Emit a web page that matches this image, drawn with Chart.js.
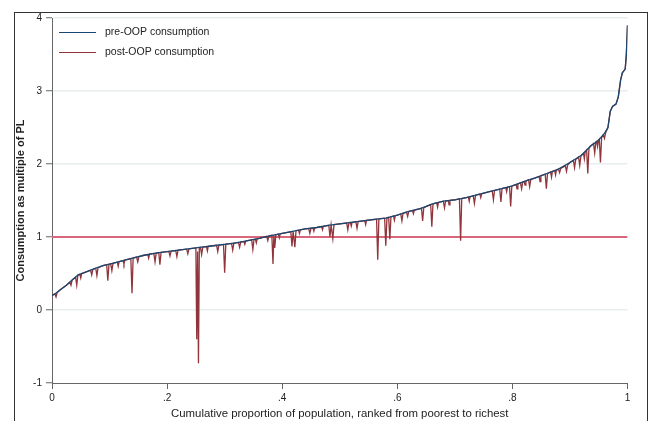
<!DOCTYPE html>
<html>
<head>
<meta charset="utf-8">
<script src="https://cdn.jsdelivr.net/npm/chart.js@4/dist/chart.umd.min.js"></script>
<style>
  html, body { margin: 0; padding: 0; background: #ffffff; }
  #wrap { width: 654px; height: 421px; position: relative; }
</style>
</head>
<body>
<div id="wrap"><canvas id="c" width="654" height="421"></canvas></div>
<script>
// ---- data ----
const seriesLabels = ['pre-OOP consumption', 'post-OOP consumption'];
const xTickValues = [0, 0.2, 0.4, 0.6, 0.8, 1];
const xTickLabels = ['0', '.2', '.4', '.6', '.8', '1'];
const yTickValues = [-1, 0, 1, 2, 3, 4];
const povertyLine = 1;

const preX = [0,0.005,0.015,0.025,0.035,0.045,0.055,0.065,0.075,0.09,0.1,
  0.12,0.14,0.16,0.18,0.2,0.22,0.24,0.26,0.28,0.3,0.32,0.34,0.36,0.38,0.4,
  0.42,0.44,0.46,0.48,0.5,0.52,0.54,0.56,0.58,0.6,0.62,0.64,0.66,0.68,0.7,
  0.72,0.74,0.76,0.78,0.8,0.82,0.84,0.86,0.88,0.9,
  0.92,0.935,0.95,0.96,0.966,0.97,0.974,0.98,0.984,0.988,0.991,0.996,0.998,1];
const preY = [0.20,0.22,0.28,0.34,0.41,0.48,0.51,0.54,0.57,0.61,0.63,
  0.67,0.71,0.75,0.78,0.80,0.82,0.84,0.86,0.88,0.90,0.92,0.95,0.98,1.02,1.05,
  1.08,1.11,1.13,1.16,1.18,1.20,1.22,1.24,1.26,1.30,1.35,1.39,1.45,1.49,1.51,
  1.54,1.58,1.62,1.66,1.70,1.76,1.81,1.87,1.93,2.02,
  2.12,2.24,2.33,2.42,2.50,2.72,2.79,2.82,2.92,3.15,3.25,3.30,3.50,3.90];

const postPoints = [
  [0,0.20],[0.005,0.22],[0.007,0.18],[0.009,0.24],[0.015,0.28],[0.025,0.34],
  [0.031,0.38],[0.033,0.34],[0.035,0.41],[0.041,0.45],[0.043,0.34],[0.045,0.48],
  [0.0485,0.49],[0.05,0.44],[0.0515,0.50],
  [0.055,0.51],[0.065,0.54],[0.067,0.545],[0.069,0.48],[0.071,0.555],[0.075,0.57],
  [0.076,0.572],[0.078,0.47],[0.080,0.58],[0.090,0.61],[0.095,0.62],[0.097,0.40],
  [0.099,0.628],[0.102,0.634],[0.104,0.54],[0.106,0.64],
  [0.1135,0.655],[0.115,0.60],[0.1165,0.66],
  [0.120,0.67],
  [0.1235,0.677],[0.125,0.63],[0.1265,0.683],
  [0.137,0.705],
  [0.139,0.23],[0.141,0.712],[0.147,0.725],[0.149,0.66],[0.151,0.73],[0.160,0.75],
  [0.1665,0.76],[0.168,0.71],[0.1695,0.765],
  [0.177,0.775],[0.179,0.66],[0.181,0.78],[0.1855,0.787],[0.1875,0.62],[0.1895,0.79],
  [0.200,0.80],[0.203,0.803],[0.205,0.74],[0.207,0.807],[0.215,0.815],[0.217,0.73],
  [0.219,0.82],[0.234,0.834],[0.236,0.77],[0.238,0.838],[0.250,0.85],[0.2515,-0.40],
  [0.253,0.80],[0.2545,-0.73],[0.256,0.855],[0.258,0.858],[0.260,0.76],[0.262,0.862],
  [0.2685,0.868],[0.27,0.81],[0.2715,0.872],
  [0.280,0.88],[0.286,0.886],[0.288,0.80],[0.290,0.89],[0.298,0.898],[0.300,0.51],
  [0.302,0.902],[0.312,0.912],[0.314,0.82],[0.316,0.916],[0.324,0.926],[0.326,0.86],
  [0.328,0.932],
  [0.3335,0.937],[0.335,0.90],[0.3365,0.942],
  [0.340,0.95],[0.347,0.96],[0.349,0.83],[0.351,0.965],
  [0.3535,0.97],[0.355,0.92],[0.3565,0.975],
  [0.360,0.98],
  [0.373,1.01],[0.375,0.95],[0.377,1.015],[0.382,1.023],[0.384,0.63],[0.3855,1.025],
  [0.387,0.85],[0.389,1.03],
  [0.3935,1.038],[0.395,0.99],[0.3965,1.042],
  [0.400,1.05],[0.415,1.072],[0.417,0.87],[0.419,1.078],
  [0.422,0.86],[0.424,1.086],
  [0.4285,1.093],[0.43,1.05],[0.4315,1.097],
  [0.440,1.11],[0.446,1.117],[0.448,1.05],[0.450,1.12],
  [0.4535,1.124],[0.455,1.08],[0.4565,1.127],
  [0.460,1.13],
  [0.4685,1.143],[0.47,1.10],[0.4715,1.147],
  [0.481,1.161],[0.483,1.00],[0.485,1.165],[0.488,0.98],[0.490,1.17],
  [0.500,1.18],[0.512,1.192],[0.514,1.10],[0.516,1.196],
  [0.5185,1.199],[0.52,1.15],[0.5215,1.202],
  [0.528,1.208],[0.530,1.12],
  [0.532,1.212],[0.540,1.22],
  [0.5435,1.224],[0.545,1.17],[0.5465,1.227],
  [0.560,1.24],[0.564,1.244],[0.566,0.69],[0.568,1.248],
  [0.578,1.258],[0.580,0.88],[0.582,1.264],[0.585,1.27],[0.587,0.97],[0.589,1.278],
  [0.5935,1.287],[0.595,1.23],[0.5965,1.292],
  [0.600,1.30],[0.606,1.315],[0.608,1.22],[0.610,1.325],[0.616,1.34],[0.618,1.28],
  [0.620,1.35],
  [0.6265,1.363],[0.628,1.32],[0.6295,1.369],
  [0.640,1.39],[0.642,1.396],[0.644,1.22],[0.646,1.402],[0.658,1.444],
  [0.660,1.14],[0.662,1.454],
  [0.6685,1.468],[0.67,1.41],[0.6715,1.472],
  [0.680,1.49],[0.682,1.40],[0.684,1.494],
  [0.6885,1.498],[0.69,1.44],[0.6915,1.502],
  [0.700,1.51],
  [0.708,1.522],[0.710,0.95],[0.712,1.528],[0.720,1.54],
  [0.7235,1.547],[0.725,1.49],[0.7265,1.552],
  [0.732,1.564],[0.734,1.46],[0.736,1.572],
  [0.7435,1.587],[0.745,1.54],[0.7465,1.592],
  [0.760,1.62],[0.765,1.63],[0.767,1.51],[0.769,1.638],[0.778,1.656],
  [0.780,1.48],[0.782,1.664],
  [0.7885,1.677],[0.79,1.62],[0.7915,1.682],
  [0.795,1.69],[0.797,1.42],[0.799,1.698],[0.800,1.70],
  [0.8065,1.72],[0.808,1.66],[0.8095,1.727],
  [0.814,1.742],[0.816,1.66],[0.818,1.754],
  [0.8205,1.762],[0.822,1.71],[0.8235,1.768],
  [0.828,1.785],[0.830,1.69],[0.832,1.79],
  [0.840,1.81],
  [0.8465,1.83],[0.848,1.76],[0.8495,1.838],
  [0.857,1.86],[0.859,1.66],[0.861,1.872],
  [0.8665,1.89],[0.868,1.82],[0.8695,1.898],
  [0.8735,1.91],[0.875,1.85],[0.8765,1.918],
  [0.880,1.93],[0.882,1.88],
  [0.884,1.94],[0.892,1.975],[0.894,1.90],[0.896,1.985],[0.900,2.02],[0.906,2.05],
  [0.908,1.95],[0.910,2.06],[0.915,2.095],[0.917,1.98],[0.919,2.105],[0.920,2.12],
  [0.9235,2.145],[0.925,2.07],[0.9265,2.165],
  [0.929,2.19],[0.931,1.87],[0.933,2.21],[0.935,2.24],[0.941,2.28],[0.943,2.15],
  [0.945,2.30],
  [0.9465,2.31],[0.948,2.24],[0.9495,2.325],
  [0.951,2.34],[0.953,2.02],[0.955,2.36],[0.958,2.40],[0.960,2.35],
  [0.962,2.43],[0.966,2.50],[0.970,2.72],[0.974,2.79],[0.980,2.82],[0.984,2.92],
  [0.988,3.15],[0.991,3.25],[0.996,3.30],[0.998,3.50],[1,3.90]
];

// ---- chart ----
const FONT = '"Liberation Sans", Arial, sans-serif';
const preColor = '#1a476f';
const postColor = '#90353b';
const refColor = '#d9677c';

const framePlugin = {
  id: 'frame',
  beforeDraw(chart) {
    const ctx = chart.ctx;
    ctx.save();
    ctx.fillStyle = '#ffffff';
    ctx.fillRect(0, 0, chart.width, chart.height);
    ctx.strokeStyle = '#333333';
    ctx.lineWidth = 1;
    ctx.strokeRect(14.5, 12.5, 633, 430);
    ctx.restore();
  }
};

const legendPlugin = {
  id: 'insideLegend',
  afterDraw(chart) {
    const ctx = chart.ctx;
    ctx.save();
    ctx.font = '10.5px ' + FONT;
    ctx.textBaseline = 'middle';
    ctx.textAlign = 'left';
    [0, 1].forEach(i => {
      const ds = chart.data.datasets[i];
      const y = 32.5 + i * 20;
      ctx.strokeStyle = ds.borderColor;
      ctx.lineWidth = 1;
      ctx.beginPath();
      ctx.moveTo(59, y);
      ctx.lineTo(96, y);
      ctx.stroke();
      ctx.fillStyle = '#222222';
      ctx.fillText(ds.label, 105, y);
    });
    ctx.restore();
  }
};

new Chart(document.getElementById('c'), {
  type: 'line',
  data: {
    datasets: [
      {
        label: seriesLabels[0],
        data: preX.map((x, i) => ({ x: x, y: preY[i] })),
        borderColor: preColor,
        borderWidth: 1.3,
        pointRadius: 0,
        tension: 0
      },
      {
        label: seriesLabels[1],
        data: postPoints.map(p => ({ x: p[0], y: p[1] })),
        borderColor: postColor,
        borderWidth: 1.3,
        pointRadius: 0,
        tension: 0
      },
      {
        label: 'poverty line',
        data: [{ x: xTickValues[0], y: povertyLine }, { x: xTickValues[xTickValues.length - 1], y: povertyLine }],
        borderColor: refColor,
        borderWidth: 1.8,
        pointRadius: 0
      }
    ]
  },
  options: {
    responsive: false,
    animation: false,
    events: [],
    layout: { padding: { left: 0, top: 18, right: 26.5, bottom: 0 } },
    plugins: {
      legend: { display: false },
      tooltip: { enabled: false }
    },
    scales: {
      x: {
        type: 'linear',
        min: xTickValues[0],
        max: xTickValues[xTickValues.length - 1],
        afterFit(s) { s.height = 38; },
        afterBuildTicks(s) { s.ticks = xTickValues.map(v => ({ value: v })); },
        ticks: {
          callback: (v, i) => xTickLabels[i],
          font: { family: FONT, size: 10 },
          color: '#222222',
          padding: 3,
          maxRotation: 0
        },
        grid: {
          drawOnChartArea: false,
          tickLength: 6,
          tickColor: '#666666',
          tickWidth: 1
        },
        border: { color: '#666666', width: 1 },
        title: {
          display: true,
          text: 'Cumulative proportion of population, ranked from poorest to richest',
          font: { family: FONT, size: 11.4 },
          color: '#222222',
          padding: { top: 0, bottom: 0 }
        }
      },
      y: {
        type: 'linear',
        min: yTickValues[0],
        max: yTickValues[yTickValues.length - 1],
        afterFit(s) { s.width = 52; },
        afterBuildTicks(s) { s.ticks = yTickValues.map(v => ({ value: v })); },
        ticks: {
          callback: v => String(v),
          font: { family: FONT, size: 10 },
          color: '#222222',
          padding: 4
        },
        grid: {
          color: c => (c.tick && c.tick.value === yTickValues[0]) ? 'rgba(0,0,0,0)' : '#e8eeee',
          lineWidth: 1.5,
          tickLength: 6,
          tickColor: '#666666',
          tickWidth: 1
        },
        border: { color: '#666666', width: 1 },
        title: {
          display: true,
          text: 'Consumption as multiple of PL',
          font: { family: FONT, size: 11, weight: 'bold' },
          color: '#222222',
          padding: { top: 14, bottom: 0 }
        }
      }
    }
  },
  plugins: [framePlugin, legendPlugin]
});
</script>
</body>
</html>
